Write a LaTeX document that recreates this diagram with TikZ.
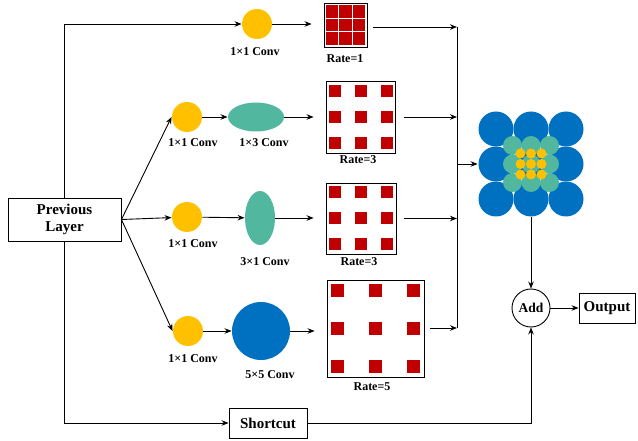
\documentclass[tikz,border=0pt]{standalone}
\usepackage{fontspec}
\setmainfont{Liberation Serif}
\usetikzlibrary{arrows.meta,shapes.geometric}
\definecolor{convy}{HTML}{FFC000}
\definecolor{convg}{HTML}{52B79F}
\definecolor{convb}{HTML}{0070C0}
\definecolor{cellr}{HTML}{C00000}
\tikzset{
  blk/.style = {draw=black, line width=0.9pt, align=center, inner sep=0pt,
    font=\fontsize{15}{17}\selectfont\bfseries},
  lbl/.style = {inner sep=0pt, font=\fontsize{12}{13}\selectfont\bfseries},
  conv_y/.style = {circle, fill=convy, minimum size=30pt, inner sep=0pt},
  conv_h/.style = {ellipse, fill=convg, minimum width=56pt, minimum height=29pt, inner sep=0pt},
  conv_v/.style = {ellipse, fill=convg, minimum width=30pt, minimum height=54pt, inner sep=0pt},
  conv_b/.style = {circle, fill=convb, minimum size=58pt, inner sep=0pt},
  rate_x/.style = {draw=black, line width=0.9pt, inner sep=0pt},
  gap/.style = {shorten >=12pt}
}

\begin{document}
\begin{tikzpicture}[x=1pt,y=-1pt,>={Stealth[length=7pt,width=5.5pt]},line width=0.9pt]
\useasboundingbox (0,0) rectangle (638,441);

% input, shortcut, add, output
\node [blk, minimum width=113pt, minimum height=43pt] (prev) at (64.5,219.5) {Previous\\Layer};
\node [blk, minimum width=78pt, minimum height=30pt] (sc) at (268,423) {Shortcut};
\node [circle, draw=black, line width=0.9pt, minimum size=38pt, inner sep=0pt,
  font=\fontsize{13.5}{14}\selectfont\bfseries] (add) at (531,308) {Add};
\node [blk, minimum width=56pt, minimum height=30pt] (out) at (607,308) {Output};

% branches
\node [conv_y] (y0) at (257,24) {};
\node [conv_y] (y1) at (187,117) {};
\node [conv_h] (e1) at (256,117) {};
\node [conv_y] (y2) at (187,217) {};
\node [conv_v] (e2) at (260,218) {};
\node [conv_y] (y3) at (188,331) {};
\node [conv_b] (b3) at (261,331) {};

\node [lbl] (l0) at (255,52) {1×1 Conv};
\node [lbl] (l1) at (193,143) {1×1 Conv};
\node [lbl] (l1b) at (264,143) {1×3 Conv};
\node [lbl] (l2) at (193,244) {1×1 Conv};
\node [lbl] (l2b) at (265,262) {3×1 Conv};
\node [lbl] (l3) at (193,359) {1×1 Conv};
\node [lbl] (l3b) at (270,375) {5×5 Conv};

% dilated kernels
\node [rate_x, minimum width=43pt, minimum height=44pt] (r1) at (345.5,25) {};
\node [rate_x, minimum width=69pt, minimum height=72pt] (r3a) at (360.5,117) {};
\node [rate_x, minimum width=70pt, minimum height=71pt] (r3b) at (361,218.5) {};
\node [rate_x, minimum width=97pt, minimum height=97pt] (r5) at (375.5,328.5) {};
\foreach \i in {-1,0,1} \foreach \j in {-1,0,1} {
  \fill [cellr] (r1.center) ++(13.5*\i-6.25,13.5*\j-6.25) rectangle +(12.5,12.5);
  \fill [cellr] (r3a.center) ++(26*\i-6,26*\j-6) rectangle +(12,12);
  \fill [cellr] (r3b.center) ++(26*\i-6,26*\j-6) rectangle +(12,12);
  \fill [cellr] (r5.center) ++(38*\i-6.5,38*\j-6.5) rectangle +(13,13);
}
\node [lbl] (t1) at (345,59) {Rate=1};
\node [lbl] (t3a) at (358,160) {Rate=3};
\node [lbl] (t3b) at (359,262) {Rate=3};
\node [lbl] (t5) at (372,387) {Rate=5};

% fused receptive field
\node [minimum size=106pt, inner sep=0pt] (clu) at (531,164) {};
\foreach \i in {-1,0,1} \foreach \j in {-1,0,1}
  \fill [convb] (clu.center) ++(35*\i,35*\j) circle (17.5);
\foreach \i in {-1,0,1} \foreach \j in {-1,0,1}
  \fill [convg] (clu.center) ++(18.5*\i,18.5*\j) circle (9.5);
\foreach \i in {-1,0,1} \foreach \j in {-1,0,1}
  \fill [convy] (clu.center) ++(10.5*\i,10.5*\j) circle (5);

\coordinate (mtop) at (457,27);
\coordinate (mbot) at (457,328);

% connectors
\draw [->] (prev.north) |- (y0);
\draw [->] (prev.east) -- (y1.west);
\draw [->] (prev.east) -- (y2);
\draw [->] (prev.east) -- (y3.west);
\draw [->] (y1) -- (e1);
\draw [->] (y2) -- (e2);
\draw [->] (y3) -- (b3);
\draw [->, gap] (y0) -- (y0 -| r1.west);
\draw [->, gap] (e1) -- (e1 -| r3a.west);
\draw [->, gap] (e2) -- (e2 -| r3b.west);
\draw [->, gap] (b3) -- (b3 -| r5.west);
\draw (mtop) -- (mbot);
\draw [->, shorten <=6pt] (r1.east |- mtop) -- (mtop);
\draw [->, shorten <=9pt] (r3a.east) -- (r3a.east -| mtop);
\draw [->, shorten <=8pt] (r3b.east) -- (r3b.east -| mtop);
\draw [->, shorten <=6pt] (r5.east |- mbot) -- (mbot);
\draw [->] (mtop |- clu) -- (clu.west);
\draw [->] (clu.south) -- (add.north);
\draw [->] (prev.south) |- (sc.west);
\draw [->] (sc.east) -| (add.south);
\draw [->] (add.east) -- (out.west);
\end{tikzpicture}
\end{document}
